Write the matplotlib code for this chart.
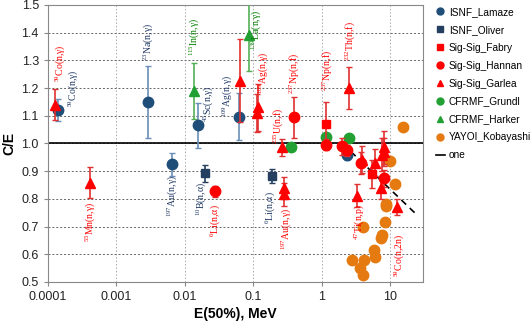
import matplotlib
matplotlib.use('Agg')
import matplotlib.pyplot as plt
from matplotlib.lines import Line2D

plt.rcParams['font.family'] = ['Liberation Sans', 'DejaVu Sans']
plt.rcParams['mathtext.fontset'] = 'stix'

# ---- data ----
lamaze_e = [1.4e-4, 2.9e-3, 6.4e-3, 0.0155, 0.062, 2.3]
lamaze_ce = [1.12, 1.148, 0.924, 1.065, 1.097, 0.96]
lamaze_err = [0.04, 0.13, 0.042, 0.08, 0.085, 0.02]

oliver_e = [0.0195, 0.186]
oliver_ce = [0.892, 0.881]
oliver_err = [0.03, 0.025]

fabry_e = [1.14, 5.5]
fabry_ce = [1.07, 0.89]
fabry_err = [0.08, 0.05]

hannan_e = [0.0276, 0.39, 1.14, 2.0, 2.3, 3.8, 8.0]
hannan_ce = [0.827, 1.094, 0.995, 0.99, 0.975, 0.928, 0.874]
hannan_err = [0.02, 0.075, 0.02, 0.03, 0.02, 0.04, 0.03]

garlea_e = [1.26e-4, 4.1e-4, 0.063, 0.116, 0.113, 0.26, 0.279, 0.279,
            2.48, 3.24, 3.84, 5.9, 7.26, 7.7, 8.0, 8.1, 12.4]
garlea_ce = [1.14, 0.859, 1.227, 1.13, 1.11, 0.986, 0.84, 0.816,
             1.2, 0.812, 0.942, 0.931, 0.838, 0.96, 0.986, 0.968, 0.77]
garlea_err = [0.055, 0.055, 0.15, 0.085, 0.07, 0.03, 0.04, 0.04,
              0.075, 0.04, 0.05, 0.05, 0.04, 0.06, 0.06, 0.05, 0.03]

grundl_e = [0.36, 1.17, 2.48]
grundl_ce = [0.986, 1.025, 1.018]
grundl_err = [0.01, 0.01, 0.01]

harker_e = [0.0135, 0.086]
harker_ce = [1.19, 1.39]
harker_err = [0.1, 0.13]

koba_e = [15.2, 9.8, 11.6, 8.6, 8.8, 8.3, 7.5, 7.3, 3.97, 5.7, 6.0, 2.74, 4.1, 3.59, 3.97]
koba_ce = [1.058, 0.935, 0.855, 0.783, 0.775, 0.718, 0.671, 0.657, 0.70,
           0.614, 0.589, 0.581, 0.581, 0.549, 0.524]

trend_e = [2.0, 25.0]
trend_ce = [1.0, 0.74]

# reaction labels: (text, E, C/E, colour)
labels = [
    (r'$\mathregular{^{59}}$Co(n,γ)', 1.5e-4, 1.29, 'red'),
    (r'$\mathregular{^{59}}$Co(n,γ)', 2.3e-4, 1.20, '#1f3864'),
    (r'$\mathregular{^{23}}$Na(n,γ)', 2.9e-3, 1.365, '#1f3864'),
    (r'$\mathregular{^{55}}$Mn(n,γ)', 4.1e-4, 0.717, 'red'),
    (r'$\mathregular{^{197}}$Au(n,γ)', 6.4e-3, 0.81, '#1f3864'),
    (r'$\mathregular{^{10}}$B(n,α)', 0.017, 0.80, '#1f3864'),
    (r'$\mathregular{^{6}}$Li(n,α)', 0.0275, 0.72, 'red'),
    (r'$\mathregular{^{45}}$Sc(n,γ)', 0.022, 1.144, '#1f3864'),
    (r'$\mathregular{^{115}}$In(n,γ)', 0.0135, 1.385, 'green'),
    (r'$\mathregular{^{109}}$Ag(n,γ)', 0.042, 1.17, '#1f3864'),
    (r'$\mathregular{^{139}}$La(n,γ)', 0.11, 1.41, 'green'),
    (r'$\mathregular{^{109}}$Ag(n,γ)', 0.14, 1.255, 'red'),
    (r'$\mathregular{^{235}}$U(n,f)', 0.23, 1.065, 'red'),
    (r'$\mathregular{^{237}}$Np(n,f)', 0.4, 1.253, 'red'),
    (r'$\mathregular{^{237}}$Np(n,f)', 1.2, 1.265, 'red'),
    (r'$\mathregular{^{232}}$Th(n,f)', 2.6, 1.37, 'red'),
    (r'$\mathregular{^{6}}$Li(n,α)', 0.175, 0.77, '#1f3864'),
    (r'$\mathregular{^{197}}$Au(n,γ)', 0.3, 0.69, 'red'),
    (r'$\mathregular{^{47}}$Ti(n,p)', 3.5, 0.715, 'red'),
    (r'$\mathregular{^{59}}$Co(n,2n)', 13.5, 0.595, 'red'),
]

BLUE = '#1f4e79'
BLUE_ERR = '#6b8fb8'
RED = '#ff0000'
GREEN = '#22a033'
ORANGE = '#e47a10'

fig = plt.figure(figsize=(5.32, 3.26), dpi=100)
ax = fig.add_axes([0.090, 0.135, 0.705, 0.850])

ax.set_xscale('log')
ax.set_xlim(1e-4, 30)
ax.set_ylim(0.5, 1.5)

# grid
ax.yaxis.grid(True, color='#666666', ls=(0, (2, 2)), lw=0.7)
ax.xaxis.grid(True, color='#aaaaaa', ls=(0, (1.5, 2)), lw=0.7)
ax.set_axisbelow(True)

# "one" line
ax.axhline(1.0, color='black', lw=1.2, zorder=2)
ax.plot(trend_e, trend_ce, color='black', ls=(0, (4, 3)), lw=1.2, zorder=2)

eb = dict(ls='none', capsize=2, elinewidth=1.2, capthick=1)
ax.errorbar(koba_e, koba_ce, fmt='o', color=ORANGE, ms=7.5, ls='none', zorder=3)
ax.errorbar(lamaze_e, lamaze_ce, yerr=lamaze_err, fmt='o', color=BLUE, ecolor=BLUE_ERR,
            ms=7.5, zorder=4, **eb)
ax.errorbar(oliver_e, oliver_ce, yerr=oliver_err, fmt='s', color='#243f60', ecolor='#243f60',
            ms=5.5, zorder=4, **eb)
ax.errorbar(grundl_e, grundl_ce, yerr=grundl_err, fmt='o', color=GREEN, ecolor=GREEN,
            ms=7.5, zorder=4, **eb)
ax.errorbar(harker_e, harker_ce, yerr=harker_err, fmt='^', color=GREEN, ecolor='#55b055',
            ms=7.5, zorder=4, **eb)
ax.errorbar(fabry_e, fabry_ce, yerr=fabry_err, fmt='s', color=RED, ecolor='#e03030',
            ms=5.5, zorder=5, **eb)
ax.errorbar(hannan_e, hannan_ce, yerr=hannan_err, fmt='o', color=RED, ecolor='#e03030',
            ms=7.5, zorder=5, **eb)
ax.errorbar(garlea_e, garlea_ce, yerr=garlea_err, fmt='^', color=RED, ecolor='#e03030',
            ms=7.5, zorder=5, **eb)

for txt, e, ce, c in labels:
    ax.text(e, ce, txt, rotation=90, ha='center', va='center', color=c,
            fontsize=7, family=['Liberation Serif', 'DejaVu Serif'], zorder=6)

ax.set_xticks([1e-4, 1e-3, 1e-2, 1e-1, 1, 10])
ax.set_xticklabels(['0.0001', '0.001', '0.01', '0.1', '1', '10'])
ax.minorticks_off()
ax.set_yticks([0.5 + 0.1 * i for i in range(11)])
ax.set_yticklabels(['%.1f' % (0.5 + 0.1 * i) for i in range(11)])
ax.tick_params(labelsize=9, length=3, color='#888888', colors='#222222')
for s in ax.spines.values():
    s.set_color('#888888')

ax.set_xlabel('E(50%), MeV', fontsize=10, fontweight='bold', labelpad=3)
ax.set_ylabel('C/E', fontsize=10, fontweight='bold', labelpad=4)

handles = [
    Line2D([], [], marker='o', color=BLUE, ls='none', ms=5),
    Line2D([], [], marker='s', color='#243f60', ls='none', ms=5),
    Line2D([], [], marker='s', color=RED, ls='none', ms=5),
    Line2D([], [], marker='o', color=RED, ls='none', ms=5),
    Line2D([], [], marker='^', color=RED, ls='none', ms=5),
    Line2D([], [], marker='o', color=GREEN, ls='none', ms=5),
    Line2D([], [], marker='^', color=GREEN, ls='none', ms=5),
    Line2D([], [], marker='o', color=ORANGE, ls='none', ms=5),
    Line2D([], [], color='black', lw=1.2),
]
names = ['ISNF_Lamaze', 'ISNF_Oliver', 'Sig-Sig_Fabry', 'Sig-Sig_Hannan', 'Sig-Sig_Garlea',
         'CFRMF_Grundl', 'CFRMF_Harker', 'YAYOI_Kobayashi', 'one']
fig.legend(handles, names, loc='upper left', bbox_to_anchor=(0.815, 0.985),
           frameon=False, labelspacing=0.78, handlelength=0.9,
           handletextpad=0.4, borderaxespad=0, borderpad=0.2,
           prop={'family': ['Liberation Sans', 'DejaVu Sans'], 'size': 7.3})

fig.savefig('out.png', dpi=100)
